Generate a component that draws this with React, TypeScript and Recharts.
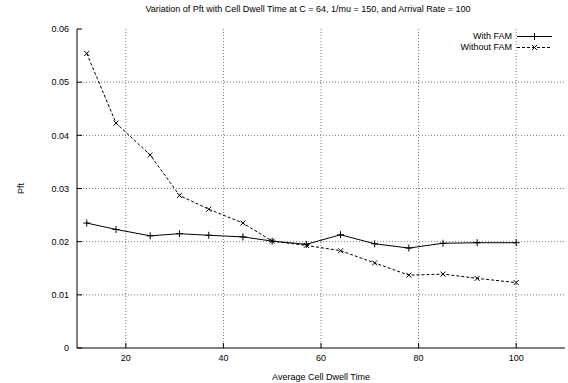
import React from "react";
import { LineChart, Line, XAxis, YAxis, CartesianGrid } from "recharts";

const dwellTimes = [12, 18, 25, 31, 37, 44, 50, 57, 64, 71, 78, 85, 92, 100];
const withFam = [0.0235, 0.0223, 0.0211, 0.0215, 0.0212, 0.0209, 0.0201, 0.0195, 0.0213, 0.0196, 0.0188, 0.0197, 0.0198, 0.0198];
const withoutFam = [0.0554, 0.0423, 0.0363, 0.0287, 0.0261, 0.0235, 0.0201, 0.0193, 0.0183, 0.016, 0.0137, 0.0139, 0.0131, 0.0123];
const xTicks = [20, 40, 60, 80, 100];
const yTicks = [0, 0.01, 0.02, 0.03, 0.04, 0.05, 0.06];

const data = dwellTimes.map((t, i) => ({ t, withFam: withFam[i], withoutFam: withoutFam[i] }));

const FONT = '"Liberation Sans", Arial, sans-serif';
const tickStyle = { fill: "#000", fontSize: 9, fontFamily: FONT };

const PlusDot = (props: any) => {
  const { cx, cy, index } = props;
  return <path key={index} d={`M${cx - 3.5},${cy}h7M${cx},${cy - 3.5}v7`} stroke="#000" strokeWidth={1} fill="none" />;
};

const CrossDot = (props: any) => {
  const { cx, cy, index } = props;
  return (
    <path key={index} d={`M${cx - 2.5},${cy - 2.5}l5,5M${cx - 2.5},${cy + 2.5}l5,-5`} stroke="#000" strokeWidth={1} fill="none" />
  );
};

// gnuplot-style key, top right inside the plot
const KeyBox = () => (
  <div
    style={{
      position: "absolute",
      top: 31,
      right: 15,
      fontFamily: FONT,
      fontSize: 9,
      lineHeight: "11px",
      color: "#000",
    }}
  >
    {[
      { name: "With FAM", dash: undefined, dot: "plus" },
      { name: "Without FAM", dash: "3 2", dot: "cross" },
    ].map((r) => (
      <div key={r.name} style={{ display: "flex", justifyContent: "flex-end", alignItems: "center" }}>
        <span>{r.name}</span>
        <svg width={36} height={11} style={{ marginLeft: 5 }}>
          <line x1={0} y1={5.5} x2={35} y2={5.5} stroke="#000" strokeDasharray={r.dash} />
          {r.dot === "plus" ? (
            <path d="M14,5.5h7M17.5,2v7" stroke="#000" fill="none" />
          ) : (
            <path d="M15,3l5,5M15,8l5,-5" stroke="#000" fill="none" />
          )}
        </svg>
      </div>
    ))}
  </div>
);

export default function App() {
  return (
    <div style={{ position: "absolute", left: 0, top: 0, width: 568, height: 383, background: "#fff" }}>
      <div
        style={{
          position: "absolute",
          top: 4,
          left: 0,
          width: 616,
          textAlign: "center",
          fontFamily: FONT,
          fontSize: 9,
          color: "#000",
        }}
      >
        Variation of Pft with Cell Dwell Time at C = 64, 1/mu = 150, and Arrival Rate = 100
      </div>
      <LineChart width={568} height={383} data={data} margin={{ top: 29, right: 3, bottom: 0, left: 0 }}>
        <CartesianGrid stroke="#777" strokeDasharray="1 2" verticalValues={xTicks} horizontalValues={[0.01, 0.02, 0.03, 0.04, 0.05]} />
        <XAxis
          dataKey="t"
          type="number"
          domain={[10, 110]}
          ticks={xTicks}
          height={35}
          tick={tickStyle}
          tickSize={-5}
          tickMargin={12}
          axisLine={{ stroke: "#000" }}
          tickLine={{ stroke: "#000" }}
          label={{ value: "Average Cell Dwell Time", position: "insideBottom", offset: 3, fill: "#000", fontSize: 9, fontFamily: FONT }}
        />
        <XAxis
          xAxisId="top"
          orientation="top"
          dataKey="t"
          type="number"
          domain={[10, 110]}
          ticks={xTicks}
          height={0}
          tick={false}
          tickSize={-5}
          axisLine={{ stroke: "#000" }}
          tickLine={{ stroke: "#000" }}
        />
        <YAxis
          type="number"
          domain={[0, 0.06]}
          ticks={yTicks}
          width={77}
          tick={tickStyle}
          tickSize={-5}
          tickMargin={13}
          tickFormatter={(v: number) => String(v)}
          axisLine={{ stroke: "#000" }}
          tickLine={{ stroke: "#000" }}
          label={{
            content: (p: any) => {
              const vb = p.viewBox;
              const cy = vb.y + vb.height / 2;
              return (
                <text x={24} y={cy} transform={`rotate(-90 24 ${cy})`} textAnchor="middle" fontSize={9} fontFamily={FONT} fill="#000">
                  Pft
                </text>
              );
            },
          }}
        />
        <YAxis
          yAxisId="right"
          orientation="right"
          type="number"
          domain={[0, 0.06]}
          ticks={yTicks}
          width={0}
          tick={false}
          tickSize={-5}
          axisLine={{ stroke: "#000" }}
          tickLine={{ stroke: "#000" }}
        />
        <Line
          dataKey="withFam"
          name="With FAM"
          stroke="#000"
          strokeWidth={1}
          dot={PlusDot}
          activeDot={false}
          isAnimationActive={false}
        />
        <Line
          dataKey="withoutFam"
          name="Without FAM"
          stroke="#000"
          strokeWidth={1}
          strokeDasharray="3 2"
          dot={CrossDot}
          activeDot={false}
          isAnimationActive={false}
        />
      </LineChart>
      <KeyBox />
    </div>
  );
}
